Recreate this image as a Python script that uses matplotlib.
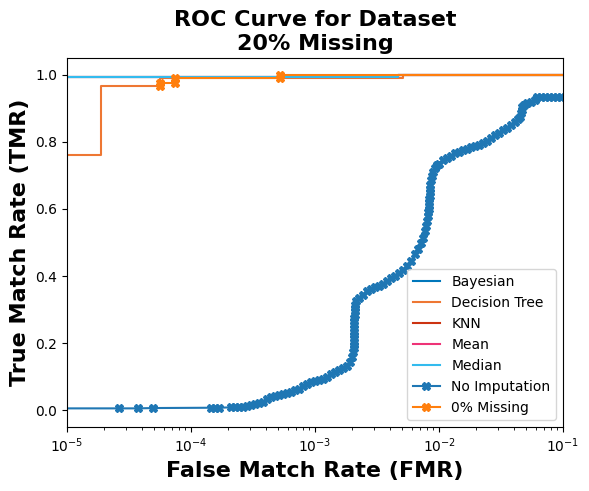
import matplotlib
matplotlib.use("Agg")
import matplotlib.pyplot as plt

# ROC points (FMR, TMR)
median_fmr = [1e-6, 4.67e-3, 4.67e-3, 1.0]
median_tmr = [0.992, 0.992, 1.0, 1.0]

# Bayesian, KNN and Mean sit under the Median curve in the reference
bayes_fmr, bayes_tmr = median_fmr, median_tmr
knn_fmr, knn_tmr = median_fmr, median_tmr
mean_fmr, mean_tmr = median_fmr, median_tmr

tree_fmr = [1e-6, 1.88e-5, 1.88e-5, 5.62e-5, 5.62e-5, 5.13e-3, 5.13e-3, 1.0]
tree_tmr = [0.76, 0.76, 0.965, 0.965, 0.99, 0.99, 1.0, 1.0]

full_fmr = [5.62e-5, 5.62e-5, 7.43e-5, 7.43e-5, 5.22e-4, 5.22e-4, 1.0]
full_tmr = [0.965, 0.975, 0.975, 0.99, 0.99, 1.0, 1.0]

noimp_fmr = [
    5e-6, 2.63e-5, 3.74e-5, 4.94e-5, 1.45e-4, 1.56e-4, 1.68e-4, 2.10e-4,
    2.27e-4, 2.44e-4, 2.63e-4, 2.83e-4, 3.05e-4, 3.29e-4, 3.54e-4, 3.81e-4,
    4.10e-4, 4.42e-4, 4.76e-4, 5.13e-4, 5.53e-4, 5.95e-4, 6.41e-4, 6.90e-4,
    7.43e-4, 8.00e-4, 8.62e-4, 9.28e-4, 1.00e-3, 1.08e-3, 1.16e-3, 1.25e-3,
    1.35e-3, 1.45e-3, 1.56e-3, 1.68e-3, 1.81e-3, 1.92e-3, 1.99e-3, 2.03e-3,
    2.04e-3, 2.05e-3, 2.05e-3, 2.05e-3, 2.06e-3, 2.06e-3, 2.06e-3, 2.06e-3,
    2.07e-3, 2.07e-3, 2.08e-3, 2.08e-3, 2.09e-3, 2.10e-3, 2.14e-3, 2.27e-3,
    2.44e-3, 2.63e-3, 2.83e-3, 3.05e-3, 3.29e-3, 3.54e-3, 3.81e-3, 4.11e-3,
    4.42e-3, 4.76e-3, 5.13e-3, 5.53e-3, 5.95e-3, 6.41e-3, 6.77e-3, 7.16e-3,
    7.44e-3, 7.71e-3, 7.86e-3, 8.02e-3, 8.15e-3, 8.20e-3, 8.25e-3, 8.30e-3,
    8.33e-3, 8.36e-3, 8.40e-3, 8.43e-3, 8.46e-3, 8.50e-3, 8.64e-3, 8.78e-3,
    8.95e-3, 9.30e-3, 9.64e-3, 1.00e-2, 1.08e-2, 1.16e-2, 1.25e-2, 1.35e-2,
    1.45e-2, 1.56e-2, 1.68e-2, 1.81e-2, 1.95e-2, 2.10e-2, 2.27e-2, 2.44e-2,
    2.63e-2, 2.83e-2, 3.05e-2, 3.29e-2, 3.54e-2, 3.81e-2, 4.11e-2, 4.34e-2,
    4.50e-2, 4.59e-2, 4.62e-2, 4.67e-2, 4.85e-2, 5.13e-2, 5.53e-2, 5.95e-2,
    6.17e-2, 6.65e-2, 7.16e-2, 7.71e-2, 8.32e-2, 8.95e-2, 9.64e-2, 1.04e-1]
noimp_tmr = [
    0.006, 0.006, 0.006, 0.007, 0.008, 0.008, 0.008, 0.009,
    0.010, 0.010, 0.011, 0.013, 0.016, 0.019, 0.022, 0.026,
    0.033, 0.040, 0.044, 0.047, 0.050, 0.053, 0.056, 0.060,
    0.064, 0.072, 0.080, 0.084, 0.087, 0.090, 0.094, 0.100,
    0.107, 0.114, 0.120, 0.125, 0.132, 0.145, 0.160, 0.175,
    0.185, 0.195, 0.205, 0.215, 0.225, 0.235, 0.245, 0.255,
    0.265, 0.275, 0.285, 0.295, 0.305, 0.315, 0.325, 0.335,
    0.343, 0.355, 0.361, 0.367, 0.372, 0.378, 0.385, 0.393,
    0.401, 0.410, 0.419, 0.431, 0.445, 0.465, 0.482, 0.500,
    0.515, 0.535, 0.550, 0.565, 0.580, 0.590, 0.600, 0.610,
    0.620, 0.630, 0.640, 0.650, 0.660, 0.670, 0.685, 0.697,
    0.710, 0.722, 0.730, 0.735, 0.745, 0.752, 0.759, 0.766,
    0.771, 0.776, 0.780, 0.784, 0.788, 0.791, 0.796, 0.803,
    0.811, 0.819, 0.827, 0.834, 0.842, 0.850, 0.860, 0.867,
    0.874, 0.885, 0.895, 0.905, 0.911, 0.915, 0.920, 0.925,
    0.933, 0.933, 0.933, 0.933, 0.933, 0.933, 0.933, 0.933]

fig, ax = plt.subplots(figsize=(5.89, 4.91), dpi=100)
fig.subplots_adjust(left=0.114, right=0.956, top=0.882, bottom=0.130)

ax.plot(bayes_fmr, bayes_tmr, color="#0077BB", label="Bayesian")
ax.plot(tree_fmr, tree_tmr, color="#EE7733", label="Decision Tree")
ax.plot(knn_fmr, knn_tmr, color="#CC3311", label="KNN")
ax.plot(mean_fmr, mean_tmr, color="#EE3377", label="Mean")
ax.plot(median_fmr, median_tmr, color="#33BBEE", label="Median")
ax.plot(noimp_fmr, noimp_tmr, color="tab:blue", marker="X", label="No Imputation")
ax.plot(full_fmr, full_tmr, color="tab:orange", marker="X", label="0% Missing")

ax.set_xscale("log")
ax.set_xlim(1e-5, 1e-1)
ax.set_ylim(-0.05, 1.05)
ax.set_xlabel("False Match Rate (FMR)", fontsize=16, fontweight="bold")
ax.set_ylabel("True Match Rate (TMR)", fontsize=16, fontweight="bold")
ax.set_title("ROC Curve for Dataset\n20% Missing", fontsize=16, fontweight="bold")
ax.legend(loc="lower right")

fig.savefig("out.png", dpi=100)
